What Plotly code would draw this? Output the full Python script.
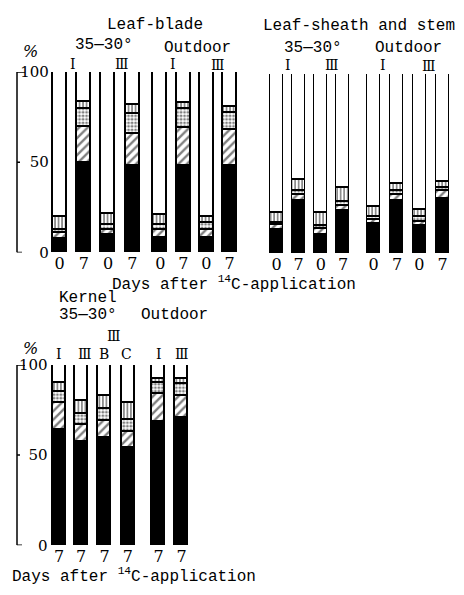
import plotly.graph_objects as go

# ---------------- data ----------------
# Panel 1: Leaf-blade
lb_days = ["0", "7", "0", "7", "0", "7", "0", "7"]
lb_black = [7.5, 49.5, 9.5, 47.7, 8.1, 47.7, 8.0, 47.7]
lb_hatch = [3.0, 20.0, 3.0, 17.7, 4.1, 21.5, 4.2, 20.3]
lb_dot = [2.0, 10.2, 2.7, 11.3, 3.0, 10.5, 3.9, 9.2]
lb_vert = [7.0, 3.6, 6.3, 4.8, 5.4, 3.3, 3.3, 3.6]

# Panel 2: Leaf-sheath and stem
ls_days = ["0", "7", "0", "7", "0", "7", "0", "7"]
ls_black = [13.0, 29.2, 10.4, 23.8, 16.3, 29.2, 15.2, 30.1]
ls_hatch = [2.8, 3.6, 3.0, 2.7, 2.5, 3.2, 2.4, 4.9]
ls_dot = [0.9, 1.8, 1.8, 2.4, 1.5, 2.2, 2.7, 1.4]
ls_vert = [5.9, 6.3, 7.2, 7.8, 5.3, 4.1, 3.9, 3.6]

# Panel 3: Kernel
k_days = ["7", "7", "7", "7", "7", "7"]
k_labels = ["I", "Ⅲ", "B", "C", "I", "Ⅲ"]
k_black = [64.0, 57.2, 59.8, 53.9, 68.3, 70.6]
k_hatch = [15.2, 9.8, 9.4, 9.0, 15.4, 12.2]
k_dot = [6.1, 6.0, 6.4, 6.5, 6.1, 6.6]
k_vert = [5.0, 7.0, 7.0, 9.3, 2.2, 2.6]

y_ticks = [0, 50, 100]

# ---------------- layout helpers ----------------
W, H = 464, 595
FONT = "Liberation Mono"
SERIF = "DejaVu Serif"

lb_pos = [0, 1, 2, 3, 4.15, 5.1, 6.05, 7.0]
ls_pos = [0, 0.99, 2.0, 3.0, 4.37, 5.43, 6.44, 7.48]
k_pos = [0, 0.96, 1.98, 3.0, 4.33, 5.33]


def px(x):
    return x / W


def py(y):
    return (H - y) / H


fig = go.Figure()


def add_stack(black, hatch, dot, vert, pos, xa, ya, width):
    white = [100 - (a + b + c + d) for a, b, c, d in zip(black, hatch, dot, vert)]
    layers = [
        (black, dict(color="black")),
        (hatch, dict(color="white", pattern=dict(shape="/", fgcolor="black", bgcolor="white", size=6, solidity=0.4))),
        (dot, dict(color="white", pattern=dict(shape=".", fgcolor="black", bgcolor="white", size=3.5, solidity=0.5))),
        (vert, dict(color="white", pattern=dict(shape="|", fgcolor="black", bgcolor="white", size=3.5, solidity=0.45))),
        (white, dict(color="white")),
    ]
    for vals, mk in layers:
        mk = dict(mk)
        mk["line"] = dict(color="black", width=1.8)
        fig.add_trace(go.Bar(x=pos, y=vals, marker=mk, width=width, xaxis=xa, yaxis=ya,
                             showlegend=False, hoverinfo="skip"))


add_stack(lb_black, lb_hatch, lb_dot, lb_vert, lb_pos, "x", "y", 0.576)
add_stack(ls_black, ls_hatch, ls_dot, ls_vert, ls_pos, "x2", "y2", 0.585)
add_stack(k_black, k_hatch, k_dot, k_vert, k_pos, "x3", "y3", 0.565)

tickfont = dict(family=SERIF, size=16, color="black")
ytickfont = dict(family=SERIF, size=15, color="black")

xcommon = dict(showgrid=False, zeroline=False, showline=False, ticks="", ticklen=0,
               tickfont=tickfont, fixedrange=True)
ycommon = dict(showgrid=False, zeroline=False, showline=False, ticks="", ticklen=0,
               range=[0, 100], fixedrange=True)

fig.update_layout(
    width=W, height=H,
    margin=dict(l=0, r=0, t=0, b=0),
    paper_bgcolor="white", plot_bgcolor="rgba(0,0,0,0)",
    barmode="stack", bargap=0,
    showlegend=False,
    font=dict(family=FONT, color="black"),
    xaxis=dict(xcommon, domain=[px(49.8), px(239.2)], range=[-0.4, 7.4], anchor="y",
               tickvals=lb_pos, ticktext=lb_days),
    yaxis=dict(ycommon, domain=[py(251), py(65)], anchor="x", tickvals=y_ticks,
               ticktext=[str(v) for v in y_ticks], tickfont=ytickfont),
    xaxis2=dict(xcommon, domain=[px(265.4), px(453.6)], range=[-0.5, 7.98], anchor="y2",
                tickvals=ls_pos, ticktext=ls_days),
    yaxis2=dict(ycommon, domain=[py(252), py(67)], anchor="x2", showticklabels=False),
    xaxis3=dict(xcommon, domain=[px(48.65), px(191.85)], range=[-0.45, 5.78], anchor="y3",
                tickvals=k_pos, ticktext=k_days),
    yaxis3=dict(ycommon, domain=[py(553), py(367)], anchor="x3", tickvals=y_ticks,
                ticktext=[str(v) for v in y_ticks], tickfont=ytickfont),
)

# bracket-style y axes
shapes = []
for yref in ["y", "y3"]:
    shapes.append(dict(type="line", xref="paper", yref=yref, x0=px(17), x1=px(17), y0=0, y1=100,
                       line=dict(color="black", width=1.5)))
    shapes.append(dict(type="line", xref="paper", yref=yref, x0=px(17), x1=px(25), y0=100, y1=100,
                       line=dict(color="black", width=1.5)))
    shapes.append(dict(type="line", xref="paper", yref=yref, x0=px(17), x1=px(22), y0=0, y1=0,
                       line=dict(color="black", width=1.5)))
    shapes.append(dict(type="line", xref="paper", yref=yref, x0=px(17), x1=px(20), y0=50, y1=50,
                       line=dict(color="black", width=1.5)))
fig.update_layout(shapes=shapes)

ann = []


def text(t, x, y, size=16, family=FONT, anchor="center"):
    ann.append(dict(text=t, x=px(x), y=py(y), xref="paper", yref="paper", showarrow=False,
                    xanchor=anchor, yanchor="middle",
                    font=dict(family=family, size=size, color="black")))


# Panel 1
text("Leaf-blade", 105, 17, anchor="left")
text("35—30°", 73, 37, anchor="left")
text("Outdoor", 162, 40, anchor="left")
text("<i>%</i>", 31, 44, family=SERIF)
text("I", 72.5, 57, size=14, family=SERIF)
text("Ⅲ", 121.7, 57, size=14, family=SERIF)
text("I", 173, 57, size=14, family=SERIF)
text("Ⅲ", 217.5, 58, size=14, family=SERIF)
text("Days after <sup>14</sup>C-application", 110, 283, anchor="left")

# Panel 2
text("Leaf-sheath and stem", 261, 18, anchor="left")
text("35—30°", 282, 40, anchor="left")
text("Outdoor", 373, 40, anchor="left")
text("I", 287.5, 58, size=14, family=SERIF)
text("Ⅲ", 331.7, 58, size=14, family=SERIF)
text("I", 383, 58, size=14, family=SERIF)
text("Ⅲ", 429, 59, size=14, family=SERIF)

# Panel 3
text("Kernel", 57, 298, anchor="left")
text("35—30°", 57, 316, anchor="left")
text("Outdoor", 139, 316, anchor="left")
text("Ⅲ", 113.5, 337, size=14, family=SERIF)
text("<i>%</i>", 30, 350, family=SERIF)
for lab, xc in zip(k_labels, [59, 84.5, 104, 126, 159, 182]):
    text(lab, xc, 356, size=14, family=SERIF)
text("Days after <sup>14</sup>C-application", 10, 584, anchor="left")

fig.update_layout(annotations=ann)

fig.write_html("out.html", config={"displayModeBar": False},
               post_script="document.body.style.margin='0';document.body.style.overflow='hidden';")
